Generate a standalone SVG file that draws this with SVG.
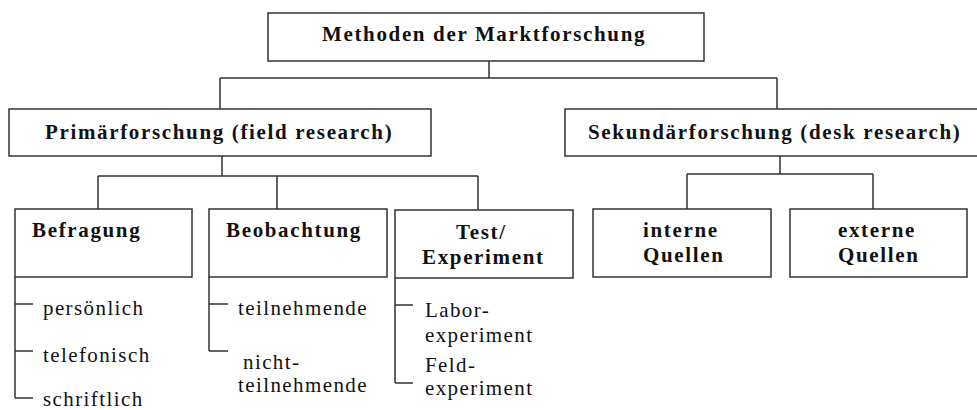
<svg xmlns="http://www.w3.org/2000/svg" width="977" height="410" viewBox="0 0 977 410">
<style>
.box{fill:#fff;stroke:#333;stroke-width:1.5}
.ln{fill:none;stroke:#333;stroke-width:1.5}
</style>
<rect width="977" height="410" fill="#fff"/>
<g id="connectors">
<path class="ln" d="M489,61 V78 M220,78 H777 M220,78 V109 M777,78 V109"/>
<path class="ln" d="M222,156 V176 M98,176 H478 M98,176 V209 M277,176 V209 M478,176 V210"/>
<path class="ln" d="M780,156 V174 M687,174 H873 M687,174 V209 M873,174 V209"/>
<path class="ln" d="M15,277 V398 M15,304 H33 M15,351 H33 M15,398 H33"/>
<path class="ln" d="M209,277 V351 M209,304 H228 M209,351 H228"/>
<path class="ln" d="M395,278 V383 M395,305 H413 M395,383 H413"/>
</g>
<g font-family="Liberation Serif, Times New Roman, serif" font-weight="bold" font-size="21" letter-spacing="1.65" fill="#111">
<g id="root">
<rect class="box" x="268" y="13" width="436" height="48"/>
<text x="322" y="41">Methoden der Marktforschung</text>
</g>
<g id="primaer">
<rect class="box" x="9" y="109" width="422" height="47"/>
<text x="45" y="139">Primärforschung (field research)</text>
</g>
<g id="sekundaer">
<rect class="box" x="565" y="109" width="425" height="47"/>
<text x="588" y="139">Sekundärforschung (desk research)</text>
</g>
<g id="befragung">
<rect class="box" x="15" y="209" width="177" height="68"/>
<text x="32" y="237">Befragung</text>
</g>
<g id="beobachtung">
<rect class="box" x="209" y="209" width="178" height="68"/>
<text x="226" y="237">Beobachtung</text>
</g>
<g id="test">
<rect class="box" x="395" y="210" width="178" height="68"/>
<text x="456" y="239">Test/</text>
<text x="422" y="264">Experiment</text>
</g>
<g id="interne">
<rect class="box" x="593" y="209" width="178" height="68"/>
<text x="643" y="237">interne</text>
<text x="643" y="262">Quellen</text>
</g>
<g id="externe">
<rect class="box" x="790" y="209" width="177" height="68"/>
<text x="838" y="237">externe</text>
<text x="838" y="262">Quellen</text>
</g>
</g>
<g font-family="Liberation Serif, Times New Roman, serif" font-size="21" letter-spacing="1.4" fill="#111">
<g id="befragung-items">
<text x="43" y="315">persönlich</text>
<text x="43" y="362">telefonisch</text>
<text x="43" y="406">schriftlich</text>
</g>
<g id="beobachtung-items">
<text x="238" y="315">teilnehmende</text>
<text x="243" y="369">nicht-</text>
<text x="238" y="392">teilnehmende</text>
</g>
<g id="test-items">
<text x="425" y="317">Labor-</text>
<text x="425" y="342">experiment</text>
<text x="425" y="372">Feld-</text>
<text x="425" y="395">experiment</text>
</g>
</g>
</svg>
